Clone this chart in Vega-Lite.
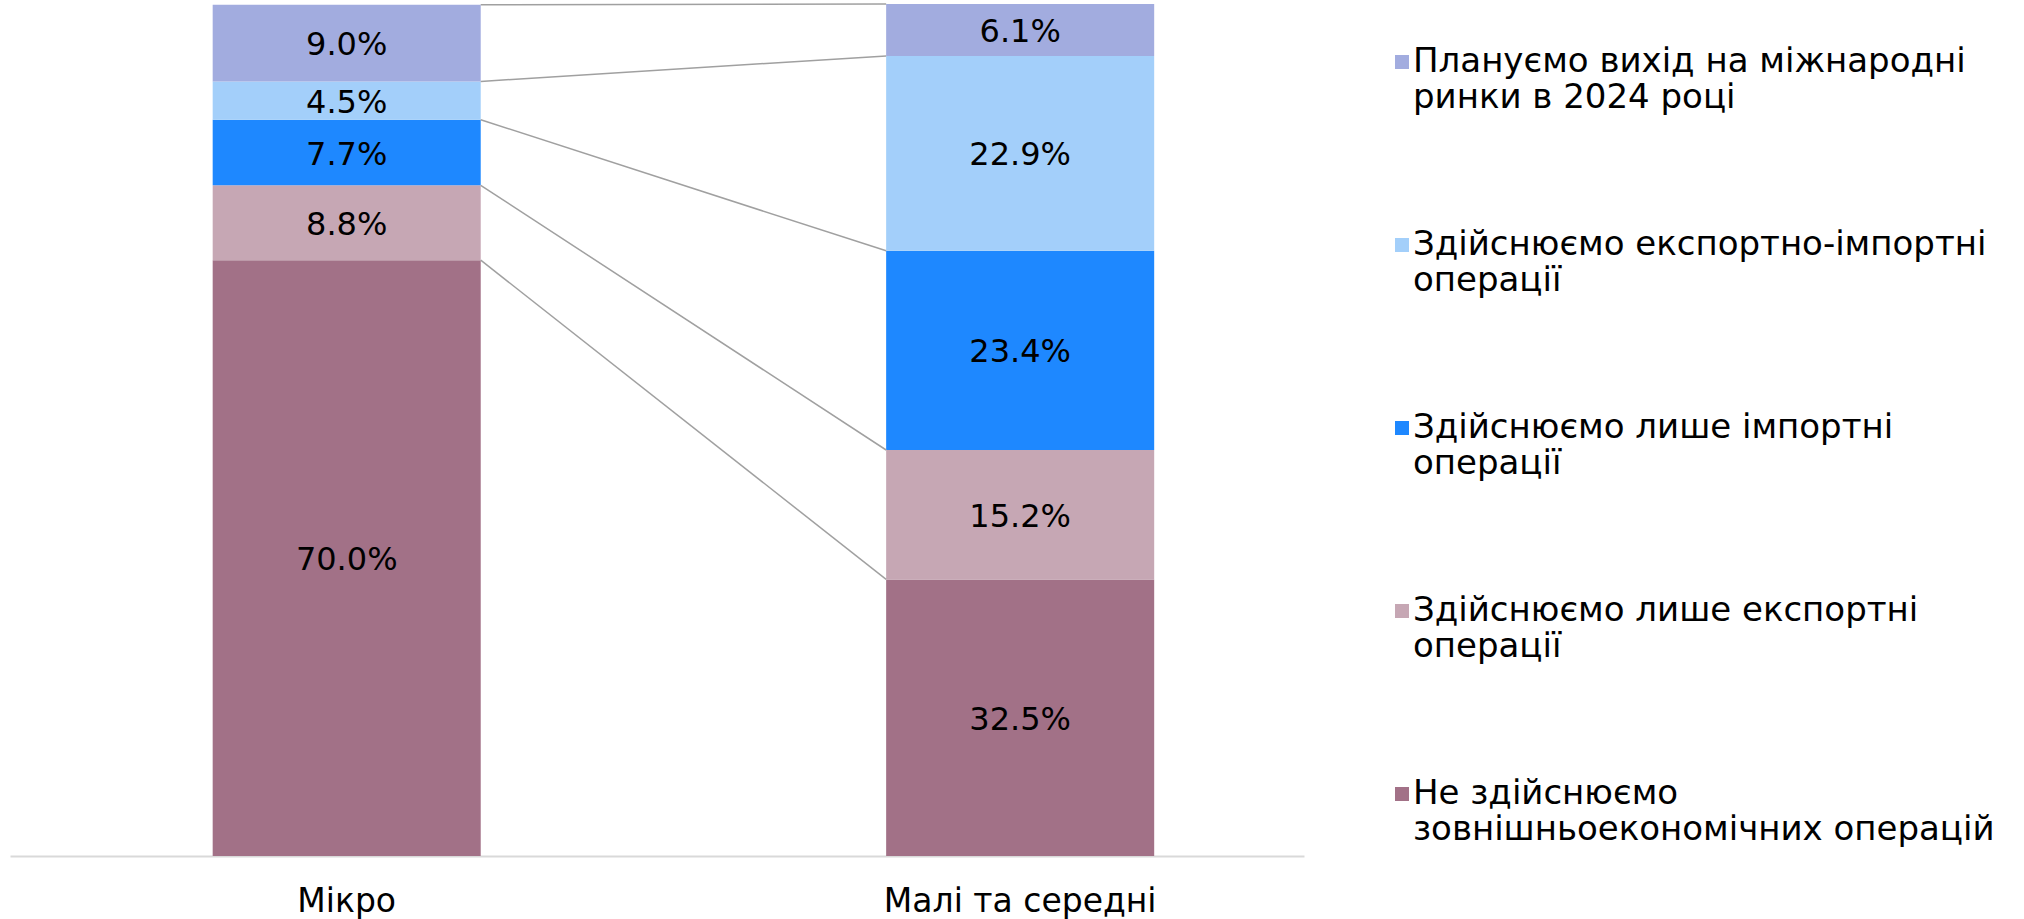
{
  "$schema": "https://vega.github.io/schema/vega-lite/v6.json",
  "autosize": "none",
  "width": 1294,
  "height": 852,
  "padding": {"left": 10, "top": 4, "right": 720, "bottom": 63},
  "background": "white",
  "config": {
    "view": {"stroke": null},
    "font": "DejaVu Sans"
  },
  "data": {
    "values": [
      {"group": "Мікро", "category": "Не здійснюємо зовнішньоекономічних операцій", "order": 1, "value": 0.700},
      {"group": "Мікро", "category": "Здійснюємо лише експортні операції", "order": 2, "value": 0.088},
      {"group": "Мікро", "category": "Здійснюємо лише імпортні операції", "order": 3, "value": 0.077},
      {"group": "Мікро", "category": "Здійснюємо експортно-імпортні операції", "order": 4, "value": 0.045},
      {"group": "Мікро", "category": "Плануємо вихід на міжнародні ринки в 2024 році", "order": 5, "value": 0.090},
      {"group": "Малі та середні", "category": "Не здійснюємо зовнішньоекономічних операцій", "order": 1, "value": 0.325},
      {"group": "Малі та середні", "category": "Здійснюємо лише експортні операції", "order": 2, "value": 0.152},
      {"group": "Малі та середні", "category": "Здійснюємо лише імпортні операції", "order": 3, "value": 0.234},
      {"group": "Малі та середні", "category": "Здійснюємо експортно-імпортні операції", "order": 4, "value": 0.229},
      {"group": "Малі та середні", "category": "Плануємо вихід на міжнародні ринки в 2024 році", "order": 5, "value": 0.061}
    ]
  },
  "encoding": {
    "x": {
      "field": "group",
      "type": "nominal",
      "sort": ["Мікро", "Малі та середні"],
      "scale": {"paddingInner": 0.602, "paddingOuter": 0.2617, "align": 0.575},
      "axis": {
        "title": null,
        "ticks": false,
        "domainColor": "#d9d9d9",
        "domainWidth": 2,
        "labelAngle": 0,
        "labelFontSize": 33,
        "labelColor": "#000000",
        "labelPadding": 55,
        "labelLimit": 600,
        "labelBaseline": "alphabetic"
      }
    }
  },
  "layer": [
    {
      "mark": {"type": "bar"},
      "encoding": {
        "y": {
          "field": "value",
          "type": "quantitative",
          "stack": "zero",
          "scale": {"domain": [0, 1.001], "nice": false},
          "axis": null
        },
        "order": {"field": "order", "type": "quantitative"},
        "color": {
          "field": "category",
          "type": "nominal",
          "scale": {
            "domain": [
              "Плануємо вихід на міжнародні ринки в 2024 році",
              "Здійснюємо експортно-імпортні операції",
              "Здійснюємо лише імпортні операції",
              "Здійснюємо лише експортні операції",
              "Не здійснюємо зовнішньоекономічних операцій"
            ],
            "range": ["#a2acdf", "#a3cffa", "#1e88ff", "#c6a7b4", "#a27187"]
          },
          "legend": {
            "title": null,
            "orient": "none",
            "legendX": 1375,
            "legendY": 41,
            "symbolType": "square",
            "symbolSize": 196,
            "symbolStrokeWidth": 0,
            "labelFontSize": 34,
            "labelColor": "#000000",
            "labelLimit": 700,
            "labelOffset": -6,
            "rowPadding": 113,
            "padding": 0,
            "labelExpr": "datum.label == 'Плануємо вихід на міжнародні ринки в 2024 році' ? ['Плануємо вихід на міжнародні', 'ринки в 2024 році'] : datum.label == 'Здійснюємо експортно-імпортні операції' ? ['Здійснюємо експортно-імпортні', 'операції'] : datum.label == 'Здійснюємо лише імпортні операції' ? ['Здійснюємо лише імпортні', 'операції'] : datum.label == 'Здійснюємо лише експортні операції' ? ['Здійснюємо лише експортні', 'операції'] : ['Не здійснюємо', 'зовнішньоекономічних операцій']"
          }
        }
      }
    },
    {
      "mark": {"type": "text", "fontSize": 32, "color": "#000000", "dy": 2},
      "encoding": {
        "y": {"field": "value", "type": "quantitative", "stack": "zero", "bandPosition": 0.5},
        "order": {"field": "order", "type": "quantitative"},
        "text": {"field": "value", "type": "quantitative", "format": ".1%"}
      }
    },
    {
      "transform": [
        {"stack": "value", "groupby": ["group"], "sort": [{"field": "order", "order": "ascending"}], "as": ["v0", "v1"]},
        {"pivot": "group", "value": "v1", "groupby": ["category"]}
      ],
      "mark": {"type": "rule", "color": "#a0a0a0", "strokeWidth": 1.5},
      "encoding": {
        "x": {"datum": "Мікро", "bandPosition": 1},
        "x2": {"datum": "Малі та середні", "bandPosition": 0},
        "y": {"field": "Мікро", "type": "quantitative"},
        "y2": {"field": "Малі та середні"}
      }
    }
  ]
}
